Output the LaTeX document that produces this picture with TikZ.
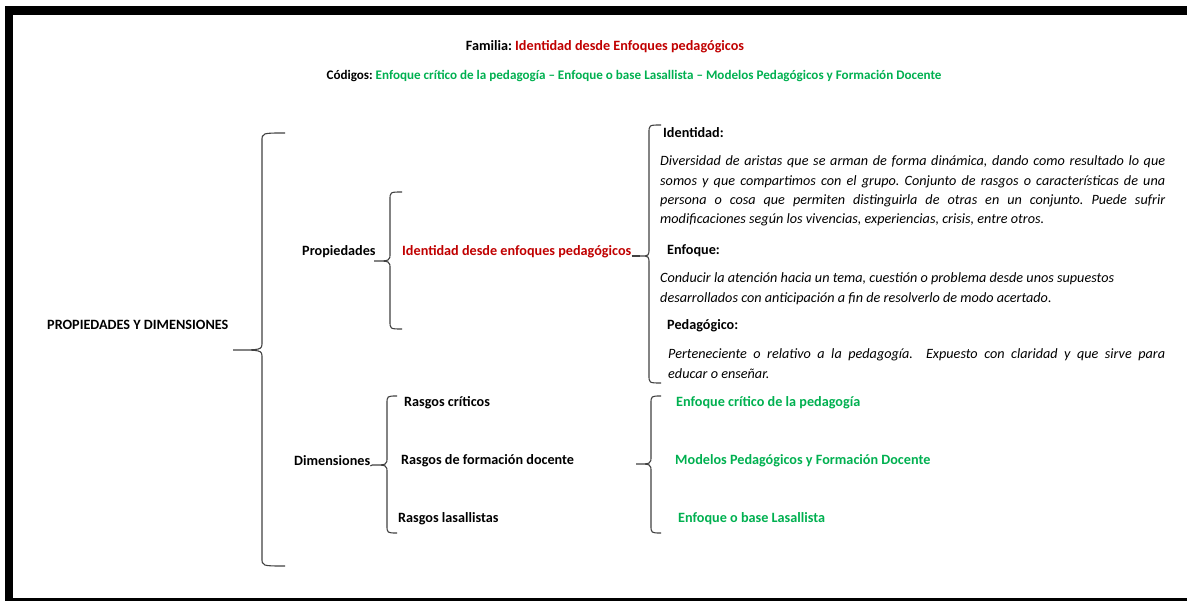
\documentclass[tikz,border=0pt]{standalone}
\usepackage{fontspec}
\setmainfont{Carlito}
\usepackage{xcolor}
\definecolor{rojo}{RGB}{192,0,0}
\definecolor{verde}{RGB}{0,176,80}
\frenchspacing

% llave: x vertical, y arriba, y abajo, x punta, y punta, x brazo, nombre punta
\newcommand{\llave}[7]{%
  \draw[llave] (#6,#2) .. controls (#1,#2) .. (#1,#2+8) -- (#1,#5-8)
    .. controls (#1,#5) .. (#4,#5) coordinate (#7)
    .. controls (#1,#5) .. (#1,#5+8) -- (#1,#3-8) .. controls (#1,#3) .. (#6,#3);}

\begin{document}
\begin{tikzpicture}[x = 1pt, y = -1pt,
    lbl/.style = {anchor = base west, inner sep = 0pt, font = \fontsize{14.2}{17}\selectfont\bfseries},
    defn/.style = {anchor = base west, inner sep = 0pt, align = justify,
      font = \fontsize{14.2}{19.3}\selectfont\itshape},
    llave/.style = {draw = black!75, line width = 1.1pt}]
    \useasboundingbox (0,0) rectangle (1187,601);

    \begin{scope}
        \fill (5,6) rectangle (1187,15);
        \fill (5,6) rectangle (13,601);
        \fill (5,597.5) rectangle (1187,601);
    \end{scope}

    \node[lbl, anchor = base] (fam) at (605,51) {Familia: \textcolor{rojo}{Identidad desde Enfoques pedagógicos}};
    \node[lbl, anchor = base, font = \fontsize{13.1}{16}\selectfont\bfseries] (cod) at (634,80) {Códigos: \textcolor{verde}{Enfoque crítico de la pedagogía -- Enfoque o base Lasallista -- Modelos Pedagógicos y Formación Docente}};

    \node[lbl] (pyd) at (47,330) {PROPIEDADES Y DIMENSIONES};
    \node[lbl] (prop) at (302,256) {Propiedades};
    \node[lbl, text = rojo] (idfoc) at (402,256) {Identidad desde enfoques pedagógicos};
    \node[lbl] (dim) at (294,466) {Dimensiones};

    \node[lbl] (ident) at (663,138) {Identidad:};
    \node[defn, text width = 505pt] (defid) at (660,166) {Diversidad de aristas que se arman de forma dinámica, dando como resultado lo que\linebreak somos y que compartimos con el grupo. Conjunto de rasgos o características de una\linebreak persona o cosa que permiten distinguirla de otras en un conjunto. Puede sufrir\linebreak modificaciones según los vivencias, experiencias, crisis, entre otros.};
    \node[lbl] (enf) at (667,255) {Enfoque:};
    \node[defn, text width = 505pt, align = flush left] (defenf) at (660,283) {Conducir la atención hacia un tema, cuestión o problema desde unos supuestos\\desarrollados con anticipación a fin de resolverlo de modo acertado.};
    \node[lbl] (ped) at (667,330) {Pedagógico:};
    \node[defn, text width = 497pt] (defped) at (668,359) {Perteneciente o relativo a la pedagogía.\ \ Expuesto con claridad y que sirve para\linebreak educar o enseñar.};

    \node[lbl] (rcri) at (404,407) {Rasgos críticos};
    \node[lbl] (rfor) at (401,465) {Rasgos de formación docente};
    \node[lbl] (rlas) at (398,523) {Rasgos lasallistas};

    \node[lbl, text = verde] (ecri) at (676,407) {Enfoque crítico de la pedagogía};
    \node[lbl, text = verde] (emod) at (675,465) {Modelos Pedagógicos y Formación Docente};
    \node[lbl, text = verde] (elas) at (678,523) {Enfoque o base Lasallista};

    \llave{262}{133}{566}{233}{350}{285}{tpyd}
    \llave{390}{192}{329}{374}{261}{402}{tprop}
    \llave{649}{125}{383}{640}{256}{661}{tdef}
    \llave{387}{396}{533}{372}{465}{397}{tdim}
    \llave{651}{396}{533}{636}{464}{661}{tcod}

    \draw[llave] (idfoc.base east) -- (tdef);
    \draw[llave] (dim.base east) -- (tdim);
\end{tikzpicture}
\end{document}
